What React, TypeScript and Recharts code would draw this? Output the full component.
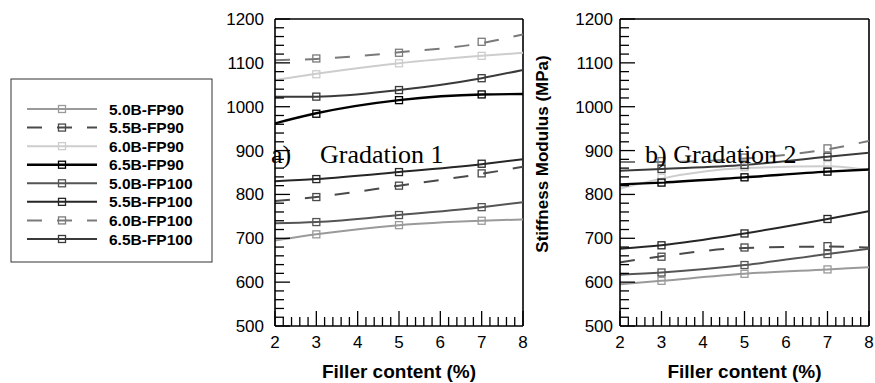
import React from 'react';
import { ComposedChart, Line, Scatter, XAxis, YAxis, ReferenceLine } from 'recharts';

// ---- data ----
const curveX = [2, 3, 5, 7, 8];
const markX = [3, 5, 7];
const seriesNames = ['5.0B-FP90', '5.5B-FP90', '6.0B-FP90', '6.5B-FP90', '5.0B-FP100', '5.5B-FP100', '6.0B-FP100', '6.5B-FP100'];

// Gradation 1 – fitted curves (values at curveX)
const g1Curve50FP90 = [695, 709, 730, 740, 743];
const g1Curve55FP90 = [785, 794, 820, 847, 863];
const g1Curve60FP90 = [1061, 1075, 1099, 1116, 1123];
const g1Curve65FP90 = [962, 985, 1015, 1028, 1029];
const g1Curve50FP100 = [734, 737, 753, 771, 782];
const g1Curve55FP100 = [830, 835, 851, 869, 880];
const g1Curve60FP100 = [1106, 1109, 1124, 1145, 1165];
const g1Curve65FP100 = [1023, 1023, 1038, 1065, 1084];
// Gradation 1 – measured points (values at markX)
const g1Mark50FP90 = [709, 730, 740];
const g1Mark55FP90 = [794, 820, 848];
const g1Mark60FP90 = [1074, 1099, 1116];
const g1Mark65FP90 = [984, 1015, 1028];
const g1Mark50FP100 = [737, 753, 771];
const g1Mark55FP100 = [835, 851, 870];
const g1Mark60FP100 = [1110, 1123, 1148];
const g1Mark65FP100 = [1023, 1038, 1065];

// Gradation 2 – fitted curves
const g2Curve50FP90 = [595, 603, 619, 629, 634];
const g2Curve55FP90 = [645, 659, 678, 681, 679];
const g2Curve60FP90 = [813, 836, 860, 864, 855];
const g2Curve65FP90 = [823, 827, 839, 852, 857];
const g2Curve50FP100 = [617, 622, 639, 664, 676];
const g2Curve55FP100 = [676, 684, 711, 744, 762];
const g2Curve60FP100 = [874, 874, 882, 903, 922];
const g2Curve65FP100 = [854, 858, 867, 886, 895];
// Gradation 2 – measured points
const g2Mark50FP90 = [603, 619, 629];
const g2Mark55FP90 = [658, 679, 682];
const g2Mark60FP90 = [838, 862, 867];
const g2Mark65FP90 = [827, 839, 852];
const g2Mark50FP100 = [622, 639, 664];
const g2Mark55FP100 = [684, 711, 744];
const g2Mark60FP100 = [876, 884, 905];
const g2Mark65FP100 = [858, 867, 886];

const g1Curves = [g1Curve50FP90, g1Curve55FP90, g1Curve60FP90, g1Curve65FP90, g1Curve50FP100, g1Curve55FP100, g1Curve60FP100, g1Curve65FP100];
const g1Marks = [g1Mark50FP90, g1Mark55FP90, g1Mark60FP90, g1Mark65FP90, g1Mark50FP100, g1Mark55FP100, g1Mark60FP100, g1Mark65FP100];
const g2Curves = [g2Curve50FP90, g2Curve55FP90, g2Curve60FP90, g2Curve65FP90, g2Curve50FP100, g2Curve55FP100, g2Curve60FP100, g2Curve65FP100];
const g2Marks = [g2Mark50FP90, g2Mark55FP90, g2Mark60FP90, g2Mark65FP90, g2Mark50FP100, g2Mark55FP100, g2Mark60FP100, g2Mark65FP100];

const yLabelTicks = [500, 600, 700, 800, 900, 1000, 1100, 1200];
const xLabelTicks = [2, 3, 4, 5, 6, 7, 8];
const yTickMarks = Array.from({ length: 36 }, (_, i) => 500 + i * 20);
const xTickMarks = Array.from({ length: 31 }, (_, i) => Math.round((2 + i * 0.2) * 10) / 10);

// ---- styles / layout ----
const seriesStroke = ['#9a9a9a', '#4a4a4a', '#cdcdcd', '#000000', '#555555', '#262626', '#7a7a7a', '#3a3a3a'];
const seriesDash = ['', '15 15', '', '', '', '', '15 15', ''];
const seriesWidth = [2, 2, 2, 2.4, 2, 2, 2, 2];
const FONT = '"Liberation Sans", Arial, sans-serif';
const PLOT_TOP = 19;
const PLOT_BOTTOM = 326;
const panelsX = [
  { left: 275, right: 523 },
  { left: 620, right: 869 },
];

const isInt = (v: number) => Math.abs(v - Math.round(v)) < 1e-6;

const makeYTick = (gap: number) => (props: any) => {
  const { x, y, payload } = props;
  return (
    <text x={x - gap} y={y} dy="0.355em" textAnchor="end" fontSize={17} fontFamily={FONT} fill="#000">
      {payload.value}
    </text>
  );
};

const XTick = (props: any) => {
  const { x, y, payload } = props;
  return (
    <text x={x} y={y + 22} textAnchor="middle" fontSize={17} fontFamily={FONT} fill="#000">
      {payload.value}
    </text>
  );
};

const square = (color: string) => (props: any) => {
  const { cx, cy } = props;
  if (cx == null || cy == null) return <g />;
  return <rect x={cx - 3.5} y={cy - 3.5} width={7} height={7} fill="none" stroke={color} strokeWidth={1.3} />;
};

type PanelProps = { curves: number[][]; marks: number[][]; left: number; width: number; marginLeft: number; marginRight: number; gap: number };

const Panel = ({ curves, marks, left, width, marginLeft, marginRight, gap }: PanelProps) => (
  <div style={{ position: 'absolute', left, top: 0 }}>
    <ComposedChart width={width} height={383} margin={{ top: PLOT_TOP, right: marginRight, bottom: 0, left: marginLeft }}>
      <XAxis
        type="number"
        dataKey="x"
        domain={[2, 8]}
        allowDataOverflow
        ticks={xLabelTicks}
        interval={0}
        tickSize={0}
        tickMargin={0}
        tickLine={false}
        axisLine={{ stroke: '#000', strokeWidth: 1.6 }}
        tick={XTick}
        height={57}
        label={{ value: 'Filler content (%)', position: 'insideBottom', offset: 5, fontSize: 19, fontWeight: 'bold', fontFamily: FONT, fill: '#000' }}
      />
      <YAxis
        type="number"
        dataKey="y"
        domain={[500, 1200]}
        allowDataOverflow
        ticks={yLabelTicks}
        interval={0}
        tickSize={0}
        tickMargin={0}
        tickLine={false}
        axisLine={{ stroke: '#000', strokeWidth: 1.6 }}
        tick={makeYTick(gap)}
        width={60}
      />
      <ReferenceLine y={1200} stroke="#000" strokeWidth={1.6} ifOverflow="visible" />
      <ReferenceLine x={8} stroke="#000" strokeWidth={1.6} ifOverflow="visible" />
      {curves.map((c, i) => (
        <Line
          key={'l' + i}
          data={curveX.map((x, j) => ({ x, y: c[j] }))}
          dataKey="y"
          type="monotone"
          stroke={seriesStroke[i]}
          strokeWidth={seriesWidth[i]}
          strokeDasharray={seriesDash[i] || undefined}
          dot={false}
          activeDot={false}
          isAnimationActive={false}
        />
      ))}
      {marks.map((m, i) => (
        <Scatter
          key={'s' + i}
          data={markX.map((x, j) => ({ x, y: m[j] }))}
          shape={square(seriesStroke[i])}
          isAnimationActive={false}
        />
      ))}
    </ComposedChart>
  </div>
);

// inward axis tick combs (decoration, same geometry as the plot areas above)
const TickCombs = () => (
  <g stroke="#000" strokeWidth={1.3}>
    {panelsX.map((p, pi) => {
      const sy = (v: number) => PLOT_BOTTOM - ((v - 500) / 700) * (PLOT_BOTTOM - PLOT_TOP);
      const sx = (v: number) => p.left + ((v - 2) / 6) * (p.right - p.left);
      return (
        <g key={'p' + pi}>
          {yTickMarks.map((v) => (
            <line key={'y' + v} x1={p.left} x2={p.left + (v % 100 === 0 ? 15 : 9)} y1={sy(v)} y2={sy(v)} />
          ))}
          {xTickMarks.map((v) => (
            <line key={'x' + v} x1={sx(v)} x2={sx(v)} y1={PLOT_BOTTOM} y2={PLOT_BOTTOM - (isInt(v) ? 15 : 9)} />
          ))}
        </g>
      );
    })}
  </g>
);

export default function App() {
  return (
    <div style={{ position: 'absolute', left: 0, top: 0, width: 875, height: 383, background: '#fff', overflow: 'hidden' }}>
      <Panel curves={g1Curves} marks={g1Marks} left={0} width={540} marginLeft={215} marginRight={17} gap={11} />
      <Panel curves={g2Curves} marks={g2Marks} left={540} width={335} marginLeft={20} marginRight={6} gap={7} />
      <svg width={875} height={383} style={{ position: 'absolute', left: 0, top: 0, pointerEvents: 'none' }}>
        <TickCombs />
        {/* panel annotations */}
        <text x={271} y={163} fontSize={26} fontFamily='"Liberation Serif", "Times New Roman", serif' fill="#000">a)</text>
        <text x={320} y={163} fontSize={26} fontFamily='"Liberation Serif", "Times New Roman", serif' fill="#000">Gradation 1</text>
        <text x={645} y={163} fontSize={26} fontFamily='"Liberation Serif", "Times New Roman", serif' fill="#000">b) Gradation 2</text>
        {/* y axis title */}
        <text
          x={542}
          y={154}
          transform="rotate(-90 542 154)"
          dy="0.36em"
          textAnchor="middle"
          fontSize={17}
          fontWeight="bold"
          fontFamily={FONT}
          fill="#000"
        >
          Stiffness Modulus (MPa)
        </text>
        {/* legend */}
        <rect x={11} y={79} width={201} height={183} fill="#fff" stroke="#333" strokeWidth={1} />
        {seriesNames.map((name, i) => {
          const cy = 109 + i * 18.57;
          return (
            <g key={name}>
              <line x1={27} x2={97} y1={cy} y2={cy} stroke={seriesStroke[i]} strokeWidth={seriesWidth[i]} strokeDasharray={seriesDash[i] || undefined} />
              <rect x={58.5} y={cy - 3.5} width={7} height={7} fill="none" stroke={seriesStroke[i]} strokeWidth={1.3} />
              <text x={109} y={cy} dy="0.36em" fontSize={15.5} fontWeight="bold" fontFamily={FONT} fill="#000">
                {name}
              </text>
            </g>
          );
        })}
      </svg>
    </div>
  );
}
